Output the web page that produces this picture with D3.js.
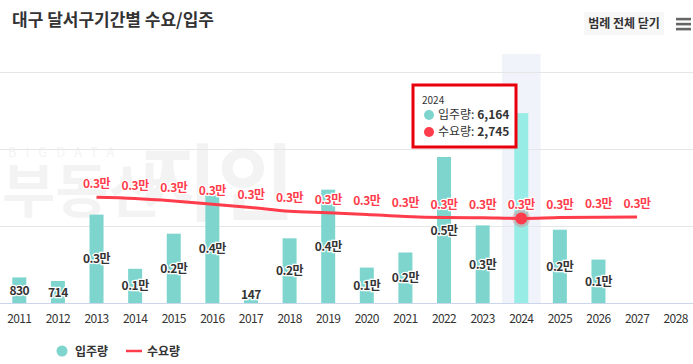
<!DOCTYPE html>
<html>
<head>
<meta charset="utf-8">
<script src="https://d3js.org/d3.v7.min.js"></script>
<style>
  body { margin: 0; background: #fff; }
  text { font-family: "Noto Sans CJK KR", "Noto Sans", sans-serif; }
</style>
</head>
<body>
<script>
// data
var years = ["2011","2012","2013","2014","2015","2016","2017","2018","2019","2020","2021","2022","2023","2024","2025","2026","2027","2028"];
var supply = [830, 714, 2870, 1110, 2250, 3510, 147, 2100, 3680, 1150, 1640, 4740, 2520, 6164, 2380, 1410, null, null];
var demand = [null, null, 3430, 3390, 3310, 3210, 3100, 2975, 2930, 2875, 2810, 2775, 2765, 2745, 2775, 2785, 2795, null];
var yTicks = [0, 2500, 5000, 7500];
var hoverYear = "2024";

var W = 693, H = 364;
var svg = d3.select("body").append("svg").attr("width", W).attr("height", H);

var x = d3.scaleBand().domain(years).range([0, 695]);
var y = d3.scaleLinear().domain([0, 7500]).range([303, 72]);

function fmt(v) {
  if (v < 1000) return String(v);
  return (Math.round(v / 1000) / 10).toFixed(1) + "만";
}

// title
svg.append("text").attr("x", 12).attr("y", 26)
  .attr("font-size", 17).attr("font-weight", "bold").attr("fill", "#333")
  .text("대구 달서구기간별 수요/입주");

// legend toggle button + menu
svg.append("rect").attr("x", 584).attr("y", 12).attr("width", 80).attr("height", 23)
  .attr("fill", "#f7f7f7");
svg.append("text").attr("x", 624).attr("y", 28).attr("text-anchor", "middle")
  .attr("font-size", 12).attr("font-weight", "bold").attr("fill", "#333")
  .text("범례 전체 닫기");
[19, 24, 29].forEach(function (yy) {
  svg.append("rect").attr("x", 676).attr("y", yy - 1.2).attr("width", 15).attr("height", 2.6)
    .attr("fill", "#666");
});

// watermark
var wm = svg.append("g").attr("fill", "#000").attr("opacity", 0.045);
wm.append("text").attr("x", 8).attr("y", 157).attr("font-size", 13)
  .attr("letter-spacing", 9).text("BIGDATA");
wm.append("text").attr("x", 2).attr("y", 212).attr("font-size", 58)
  .attr("font-weight", "bold").text("부동산");
wm.append("text").attr("x", 140).attr("y", 214).attr("font-size", 84)
  .attr("font-weight", "bold").text("지인");

// hover band
svg.append("rect").attr("x", x(hoverYear)).attr("y", 54)
  .attr("width", x.bandwidth()).attr("height", 303 - 54)
  .attr("fill", "#f0f3f9");

// grid
svg.append("g").selectAll("line").data(yTicks.slice(1)).join("line")
  .attr("x1", 0).attr("x2", W)
  .attr("y1", function (d) { return Math.round(y(d)) + 0.5; })
  .attr("y2", function (d) { return Math.round(y(d)) + 0.5; })
  .attr("stroke", "#e6e6e6");

// bars
var bw = 14;
var rows = years.map(function (yr, i) { return { year: yr, s: supply[i], d: demand[i] }; });
svg.append("g").selectAll("rect").data(rows.filter(function (d) { return d.s != null; })).join("rect")
  .attr("x", function (d) { return x(d.year) + x.bandwidth() / 2 - bw / 2; })
  .attr("y", function (d) { return y(d.s); })
  .attr("width", bw)
  .attr("height", function (d) { return 303 - y(d.s); })
  .attr("fill", function (d) { return d.year === hoverYear ? "#98ece6" : "#7dd5ce"; });

// x axis
svg.append("line").attr("x1", 0).attr("x2", W).attr("y1", 303.5).attr("y2", 303.5)
  .attr("stroke", "#ccd6eb");
svg.append("g").selectAll("text").data(years).join("text")
  .attr("x", function (d) { return x(d) + x.bandwidth() / 2; })
  .attr("y", 323)
  .attr("text-anchor", "middle").attr("font-size", 12).attr("fill", "#333")
  .attr("letter-spacing", -0.6)
  .text(function (d) { return d; });

// bar labels (hovered bar's label is hidden behind the demand label)
svg.append("g").selectAll("text")
  .data(rows.filter(function (d) { return d.s != null && d.year !== hoverYear; })).join("text")
  .attr("x", function (d) { return x(d.year) + x.bandwidth() / 2; })
  .attr("y", function (d) { return Math.min((y(d.s) + 303) / 2, 294) + 4.5; })
  .attr("text-anchor", "middle").attr("font-size", 12).attr("font-weight", "bold")
  .attr("fill", "#333").attr("stroke", "#fff").attr("stroke-width", 2.5)
  .attr("paint-order", "stroke").attr("letter-spacing", -0.5)
  .text(function (d) { return fmt(d.s); });

// demand line
var dRows = rows.filter(function (d) { return d.d != null; });
var line = d3.line()
  .x(function (d) { return x(d.year) + x.bandwidth() / 2; })
  .y(function (d) { return y(d.d); })
  .curve(d3.curveMonotoneX);
svg.append("path").datum(dRows).attr("d", line)
  .attr("fill", "none").attr("stroke", "#ff3c4b").attr("stroke-width", 3);

// hover marker
var hv = dRows.find(function (d) { return d.year === hoverYear; });
svg.append("circle").attr("cx", x(hv.year) + x.bandwidth() / 2).attr("cy", y(hv.d))
  .attr("r", 9).attr("fill", "#ff3c4b").attr("opacity", 0.25);
svg.append("circle").attr("cx", x(hv.year) + x.bandwidth() / 2).attr("cy", y(hv.d))
  .attr("r", 6).attr("fill", "#ff3c4b");

// demand labels
svg.append("g").selectAll("text").data(dRows).join("text")
  .attr("x", function (d) { return x(d.year) + x.bandwidth() / 2; })
  .attr("y", function (d) { return y(d.d) - 9; })
  .attr("text-anchor", "middle").attr("font-size", 12).attr("font-weight", "bold")
  .attr("fill", "#ff3c4b").attr("stroke", "#fff").attr("stroke-width", 2.5)
  .attr("paint-order", "stroke").attr("letter-spacing", -0.5)
  .text(function (d) { return fmt(d.d); });

// tooltip
var sv = rows.find(function (d) { return d.year === hoverYear; });
var tip = svg.append("g").attr("transform", "translate(413,85)");
tip.append("rect").attr("width", 103).attr("height", 62)
  .attr("fill", "#fff").attr("stroke", "#e8000d").attr("stroke-width", 3);
tip.append("text").attr("x", 9).attr("y", 19).attr("font-size", 10).attr("fill", "#333")
  .text(hoverYear);
var tipRows = [{ c: "#7dd5ce", n: "입주량", v: sv.s }, { c: "#ff3c4b", n: "수요량", v: sv.d }];
tipRows.forEach(function (r, i) {
  var ty = 34 + i * 17;
  tip.append("circle").attr("cx", 16).attr("cy", ty - 4).attr("r", 5).attr("fill", r.c);
  var t = tip.append("text").attr("x", 25).attr("y", ty).attr("font-size", 12).attr("fill", "#333");
  t.append("tspan").text(r.n + ": ");
  t.append("tspan").attr("font-weight", "bold").text(d3.format(",")(r.v));
});

// legend
var lg = svg.append("g").attr("transform", "translate(0,351)");
lg.append("circle").attr("cx", 62).attr("cy", 0).attr("r", 5.5).attr("fill", "#7dd5ce");
lg.append("text").attr("x", 75).attr("y", 4.5).attr("font-size", 12).attr("font-weight", "bold")
  .attr("fill", "#333").text("입주량");
lg.append("line").attr("x1", 126).attr("x2", 142).attr("y1", 0).attr("y2", 0)
  .attr("stroke", "#ff3c4b").attr("stroke-width", 2.5);
lg.append("text").attr("x", 147).attr("y", 4.5).attr("font-size", 12).attr("font-weight", "bold")
  .attr("fill", "#333").text("수요량");
</script>
</body>
</html>
